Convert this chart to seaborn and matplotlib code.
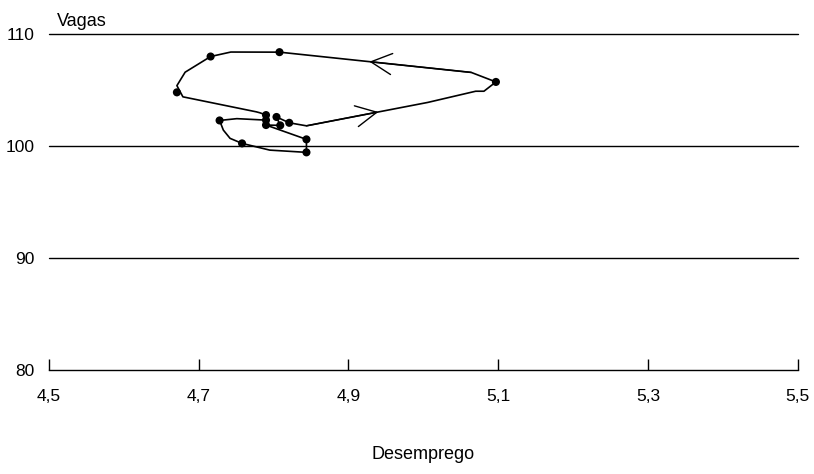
import matplotlib
matplotlib.use('Agg')
import matplotlib.pyplot as plt
import seaborn as sns
import pandas as pd

sns.set_style('white')
plt.rcParams['font.family'] = ['Liberation Sans Narrow', 'Liberation Sans', 'DejaVu Sans']
plt.rcParams['text.color'] = 'black'
plt.rcParams['axes.labelcolor'] = 'black'
plt.rcParams['xtick.color'] = 'black'
plt.rcParams['ytick.color'] = 'black'

# full path of the curve (marked and unmarked vertices), in time order
path_x = [4.790, 4.751, 4.728, 4.733, 4.742, 4.758, 4.795, 4.844, 4.844, 4.790,
          4.809, 4.804, 4.821, 4.844, 5.006, 5.070, 5.081, 5.097, 5.064, 4.808,
          4.743, 4.716, 4.682, 4.671, 4.679, 4.777, 4.782, 4.790]
path_y = [102.32, 102.45, 102.29, 101.43, 100.69, 100.24, 99.64, 99.44, 100.60, 101.88,
          101.85, 102.60, 102.08, 101.81, 103.90, 104.90, 104.90, 105.73, 106.58, 108.39,
          108.40, 108.00, 106.60, 105.40, 104.40, 103.06, 102.97, 102.77]

# observations shown with a dot
pts_x = [4.790, 4.728, 4.758, 4.844, 4.844, 4.790, 4.809, 4.804, 4.821,
         5.097, 4.808, 4.716, 4.671, 4.790]
pts_y = [102.32, 102.29, 100.24, 99.44, 100.60, 101.88, 101.85, 102.60, 102.08,
         105.73, 108.39, 108.00, 104.80, 102.77]

# direction arrows (tail, tip), both lying on the path
arrows = [((4.844, 101.81), (4.940, 103.05)),
          ((5.064, 106.58), (4.928, 107.54))]

xticks = [4.5, 4.7, 4.9, 5.1, 5.3, 5.5]
xtick_labels = ['4,5', '4,7', '4,9', '5,1', '5,3', '5,5']
yticks = [80, 90, 100, 110]

path = pd.DataFrame({'Desemprego': path_x, 'Vagas': path_y})
pts = pd.DataFrame({'Desemprego': pts_x, 'Vagas': pts_y})

fig = plt.figure(figsize=(8.14, 4.74), dpi=100)
ax = fig.add_axes([0.060, 0.2194, 0.920, 0.7086])

for y in [90, 100, 110]:
    ax.axhline(y, color='black', lw=1.0, zorder=1, clip_on=False)

sns.lineplot(data=path, x='Desemprego', y='Vagas', sort=False, estimator=None,
             color='black', lw=1.2, ax=ax, zorder=3)
sns.scatterplot(data=pts, x='Desemprego', y='Vagas', color='black', s=34,
                edgecolor='none', ax=ax, zorder=4)

for tail, tip in arrows:
    ax.annotate('', xy=tip, xytext=tail,
                arrowprops=dict(arrowstyle='->,head_length=0.75,head_width=0.38',
                                mutation_scale=20, color='black', lw=1.0,
                                shrinkA=0, shrinkB=0))

ax.set_xlim(4.5, 5.5)
ax.set_ylim(80, 110)
ax.set_xticks(xticks)
ax.set_xticklabels(xtick_labels)
ax.set_yticks(yticks)
ax.tick_params(axis='x', bottom=True, direction='in', length=8, width=1,
               color='black', labelcolor='black', labelsize=12.5, pad=14)
ax.tick_params(axis='y', left=False, length=0, labelcolor='black',
               labelsize=12.5, pad=10)
for s in ['top', 'right', 'left']:
    ax.spines[s].set_visible(False)
ax.spines['bottom'].set_color('black')
ax.spines['bottom'].set_linewidth(1.0)

ax.set_ylabel('')
ax.set_xlabel('Desemprego', fontsize=13, labelpad=30, color='black')
ax.text(0.011, 1.012, 'Vagas', transform=ax.transAxes, fontsize=13,
        ha='left', va='bottom', color='black')

plt.savefig('out.png', dpi=100)
